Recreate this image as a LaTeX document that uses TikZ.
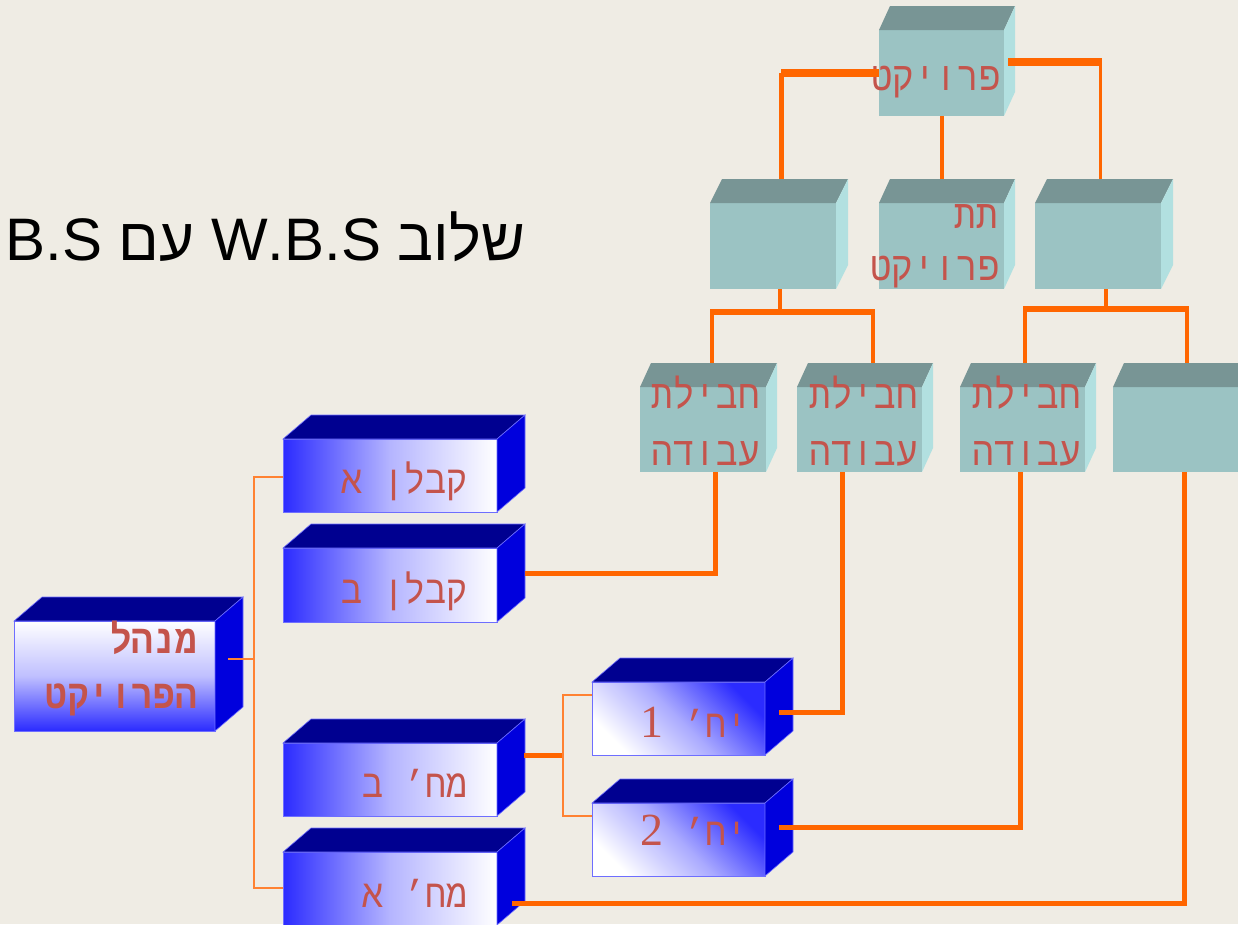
\documentclass[tikz,border=0pt]{standalone}
\usepackage{fontspec}
\usetikzlibrary{calc}
\TeXXeTstate=1
\newfontfamily\hebsans[Script=Hebrew]{Liberation Sans}
\newfontfamily\hebmono[Script=Hebrew, FakeStretch=0.9]{Liberation Mono}
\newfontfamily\digserif{Liberation Serif}
\definecolor{bg}{RGB}{239,236,228}
\definecolor{tealF}{RGB}{155,195,195}
\definecolor{tealT}{RGB}{120,149,149}
\definecolor{tealS}{RGB}{178,224,224}
\definecolor{blueT}{RGB}{0,0,144}
\definecolor{blueS}{RGB}{0,0,221}
\definecolor{gb}{RGB}{43,43,255}
\definecolor{bedge}{RGB}{110,110,255}
\definecolor{org}{RGB}{255,102,0}
\definecolor{orgthin}{RGB}{255,130,50}
\definecolor{txt}{RGB}{196,84,76}
\tikzset{
  tealbox/.style={fill=tealF},
  hbluebox/.style={left color=gb, right color=white, middle color=gb!35!white, draw=bedge, line width=0.6pt},
  vbluebox/.style={top color=white, bottom color=gb, middle color=gb!30!white, draw=bedge, line width=0.6pt},
  dbluebox/.style={bottom color=white, top color=gb, middle color=gb!40!white, shading angle=-45, draw=bedge, line width=0.6pt},
  tealTop/.style={fill=tealT},
  tealSide/.style={fill=tealS},
  blueTop/.style={fill=blueT, draw=bedge, line width=0.6pt},
  blueSide/.style={fill=blueS, draw=bedge, line width=0.6pt},
  lbl/.style={font=\hebmono\fontsize{40}{44}\selectfont, text=txt, inner sep=0pt, anchor=base east},
  blbl/.style={font=\hebmono\fontsize{39}{44}\selectfont, text=txt, inner sep=0pt, anchor=base east},
  mlbl/.style={font=\hebmono\bfseries\fontsize{40}{44}\selectfont, text=txt, inner sep=0pt, anchor=base east},
  o8/.style={draw=org, line width=8pt},
  o6/.style={draw=org, line width=6pt},
  o5/.style={draw=org, line width=5pt},
  o4/.style={draw=org, line width=4pt},
  o3/.style={draw=org, line width=3pt},
  o2/.style={draw=orgthin, line width=1.8pt},
}
\newcommand\bigdig[1]{{\digserif\fontsize{46}{46}\selectfont #1}}
% #1 name, #2 x1, #3 y1, #4 x2, #5 y2, #6 depth dx, #7 front style, #8 face prefix
\newcommand\mkcube[8]{%
  \node[#7, anchor=north west, inner sep=0pt, outer sep=0pt,
        minimum width={(#4-#2)*1pt}, minimum height={(#5-#3)*1pt}] (#1) at (#2,#3) {};
  \path[#8Top] (#1.north west) -- ++(#6,-24) -- ++({#4-#2},0) -- (#1.north east) -- cycle;
  \path[#8Side] (#1.north east) -- ++(#6,-24) -- ++(0,{#5-#3}) -- (#1.south east) -- cycle;
  \path (#1.north) ++({#6/2},-24) coordinate (#1tf);
}
\begin{document}
\begin{tikzpicture}[x=1pt,y=-1pt]
\useasboundingbox (0,0) rectangle (1238,924);
\fill[bg] (0,0) rectangle (1238,924);

% title
\node[font=\hebsans\fontsize{60}{70}\selectfont, anchor=base east, inner sep=0pt] (title) at (525,260)
  {\beginR שלוב \beginL W.B.S\endL{} עם \beginL B.S\endL\endR};

% teal WBS boxes
\mkcube{proj}{879}{30}{1004}{116}{11}{tealbox}{teal}
\mkcube{sub1}{710}{203}{836}{289}{12}{tealbox}{teal}
\mkcube{sub2}{879}{203}{1004}{289}{11}{tealbox}{teal}
\mkcube{sub3}{1035}{203}{1161}{289}{12}{tealbox}{teal}
\mkcube{wp1}{640}{387}{766}{472}{11}{tealbox}{teal}
\mkcube{wp2}{797}{387}{922}{472}{11}{tealbox}{teal}
\mkcube{wp3}{960}{387}{1085}{472}{11}{tealbox}{teal}
\mkcube{wp4}{1113}{387}{1239}{472}{11}{tealbox}{teal}

% blue OBS boxes
\mkcube{mgr}{14}{621}{215}{731}{28}{vbluebox}{blue}
\mkcube{ka}{283}{439}{497}{512}{28}{hbluebox}{blue}
\mkcube{kb}{283}{548}{497}{622}{28}{hbluebox}{blue}
\mkcube{mb}{283}{743}{497}{816}{28}{hbluebox}{blue}
\mkcube{ma}{283}{852}{497}{925}{28}{hbluebox}{blue}
\mkcube{y1}{592}{682}{765}{755}{28}{dbluebox}{blue}
\mkcube{y2}{592}{803}{765}{876}{28}{dbluebox}{blue}

% labels
\node[lbl] (lproj) at (1001,90) {\beginR פרויקט\endR};
\node[lbl] (lsub2a) at (998,228) {\beginR תת\endR};
\node[lbl] (lsub2b) at (1000,280) {\beginR פרויקט\endR};
\node[lbl] (lwp1a) at (760,408) {\beginR חבילת\endR};
\node[lbl] (lwp1b) at (760,465) {\beginR עבודה\endR};
\node[lbl] (lwp2a) at (918,408) {\beginR חבילת\endR};
\node[lbl] (lwp2b) at (918,465) {\beginR עבודה\endR};
\node[lbl] (lwp3a) at (1081,408) {\beginR חבילת\endR};
\node[lbl] (lwp3b) at (1081,465) {\beginR עבודה\endR};
\node[mlbl] (lmgra) at (197,653) {\beginR מנהל\endR};
\node[mlbl] (lmgrb) at (197,708) {\beginR הפרויקט\endR};
\node[blbl] (lka) at (468,493) {\beginR קבלן א\endR};
\node[blbl] (lkb) at (468,603) {\beginR קבלן ב\endR};
\node[blbl] (lmb) at (468,797) {\beginR מח’ ב\endR};
\node[blbl] (lma) at (468,907) {\beginR מח’ א\endR};
\node[blbl] (ly1) at (748,737) {\beginR יח’ \bigdig{1}\endR};
\node[blbl] (ly2) at (748,845) {\beginR יח’ \bigdig{2}\endR};

% WBS connectors
\coordinate (jL) at (781,73);
\draw[o8] (proj.west) -- (jL);
\draw[o5] (jL) -- (jL |- sub1tf);
\coordinate (jR) at (1100,62);
\draw[o8] ([xshift=4pt,yshift=11pt]proj.east) -- ([xshift=1.5pt]jR);
\draw[o3] (jR) -- (jR |- sub3tf);
\draw[o4] (proj.south) -- (proj.south |- sub2tf);

\coordinate (b1) at (780,312);
\coordinate (b1l) at (712,312);
\coordinate (b1r) at (873,312);
\draw[o4] ([xshift=7pt]sub1.south) -- (b1);
\draw[o6] ([xshift=-2pt]b1l) -- ([xshift=2pt]b1r);
\draw[o4] (b1l) -- (b1l |- wp1tf);
\draw[o4] (b1r) -- (b1r |- wp2tf);

\coordinate (b3) at (1106,309);
\coordinate (b3l) at (1025,309);
\coordinate (b3r) at (1187,309);
\draw[o4] ([xshift=8pt]sub3.south) -- (b3);
\draw[o6] ([xshift=-2pt]b3l) -- ([xshift=2pt]b3r);
\draw[o4] (b3l) -- (b3l |- wp3tf);
\draw[o4] (b3r) -- (b3r |- wp4tf);

% work packages to organisation units
\draw[o5] ([xshift=12pt]wp1.south) |- ([xshift=28pt,yshift=12pt]kb.east);
\draw[o5] ([xshift=-17pt]wp2.south) |- ([xshift=14pt,yshift=6pt]y1.east);
\draw[o5] ([xshift=-2pt]wp3.south) |- ([xshift=14pt,yshift=12pt]y2.east);
\draw[o5] ([xshift=8pt]wp4.south) |- ([xshift=15pt,yshift=-15pt]ma.east);

% OBS connectors
\coordinate (t1) at (254,659);
\draw[o2] ([xshift=13pt,yshift=17pt]mgr.east) -- (t1);
\draw[o2] ([yshift=-1.5pt]ka.west) -| (t1) |- ([yshift=0.5pt]ma.west);
\coordinate (t2) at (563,755.5);
\draw[o5] ([xshift=27pt,yshift=24pt]mb.east) -- (t2);
\draw[o2] ([yshift=23.5pt]y1.west) -| (t2) |- ([yshift=23.5pt]y2.west);
\end{tikzpicture}
\end{document}
